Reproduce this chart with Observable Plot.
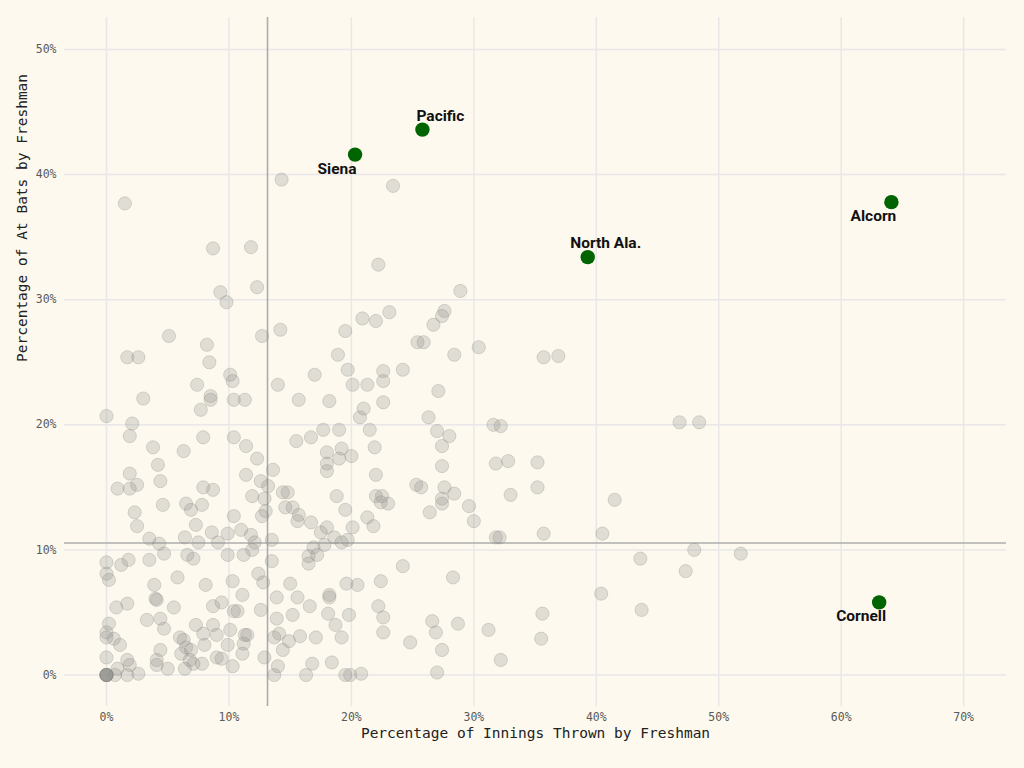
<!DOCTYPE html>
<html><head><meta charset="utf-8">
<script src="https://cdn.jsdelivr.net/npm/d3@7"></script>
<script src="https://cdn.jsdelivr.net/npm/@observablehq/plot@0.6"></script>
<style>
html,body{margin:0;padding:0;background:#fdf9ee;}
#chart{width:1024px;height:768px;}
</style></head><body><div id="chart"></div>
<script>
// Percentage of innings thrown by freshmen (x) and at bats by freshmen (y), per team
const freshmanInnings = [
  1.5, 8.7, 11.8, 9.3, 9.8, 12.3, 5.1, 8.2, 8.4, 1.7,
  2.6, 10.1, 10.3, 7.4, 8.5, 8.5, 10.4, 11.3, 7.7, 3.0,
  0, 2.1, 1.9, 3.8, 6.3, 7.9, 10.4, 11.4, 12.3, 4.2,
  1.9, 11.4, 4.4, 2.5, 1.9, 0.9, 7.9, 8.7, 12.6, 13.2,
  13.6, 14.0, 14.2, 14.3, 12.7,
  19.5, 25.4, 25.9, 28.4, 30.4, 18.9, 19.7, 22.6, 22.6, 24.2,
  17.0, 20.1, 21.3, 27.1, 15.7, 18.2, 22.6, 21.0, 20.7, 26.3,
  17.7, 19.0, 21.5, 27.0, 28.0, 15.5, 16.7, 27.4, 18.0, 19.2,
  19.0, 20.0, 21.9, 18.0, 18.0, 27.4, 22.0,
  14.4, 14.8, 18.8, 22.0, 22.5, 22.4, 23.0, 25.3, 25.7, 27.6,
  28.4, 27.4, 27.4, 26.4, 29.6, 30.0, 12.9, 13.0, 14.6, 15.2,
  15.7, 15.6, 16.7, 19.5, 21.3, 21.8, 18.0, 20.1, 18.6, 19.2,
  19.7, 17.5, 13.5, 17.8, 16.9, 17.2, 16.5, 16.5, 13.5,
  24.2, 28.3, 15.0, 13.9, 15.6, 16.6, 18.2, 18.2, 19.6, 20.5,
  22.4, 22.2, 22.6, 15.2, 18.1, 19.8, 18.7, 13.9, 12.6, 12.8,
  12.4, 13.7, 14.1, 14.9, 14.4, 15.8, 17.1, 19.2, 22.6, 24.8,
  26.6, 26.9, 28.7, 27.4, 31.2, 32.2, 12.9, 14.0, 13.7, 16.8,
  16.3, 18.4, 19.5, 19.9, 20.8, 27.0,
  23.4, 22.2, 28.9, 27.6, 27.4, 26.7, 23.1, 22.0, 20.9, 35.7,
  36.9, 31.6, 32.2, 46.8, 48.4, 31.8, 32.8, 35.2, 35.2, 33.0,
  41.5, 31.8, 32.1, 35.7, 40.5, 43.6, 48.0, 47.3, 51.8, 40.4,
  43.7, 35.6, 35.5,
  11.9, 4.6, 2.3, 2.5, 6.5, 6.9, 7.8, 7.3, 10.4, 12.7,
  3.5, 4.3, 4.7, 6.4, 7.5, 8.6, 9.1, 9.9, 11.0, 11.8,
  12.1, 11.9, 6.6, 7.1, 9.9, 11.2, 0, 1.2, 1.8, 3.5,
  0, 0.2, 5.8, 8.1, 10.3, 3.9, 11.1, 4.0, 4.1, 0.8,
  1.7, 5.5, 8.7, 9.4, 10.4, 10.7, 0.2, 3.3, 4.4, 4.7,
  7.3, 7.9, 8.7, 9.0, 10.1, 9.9, 11.3, 11.5, 11.2, 0,
  0, 0.6, 1.1, 6.0, 6.3, 6.5, 6.9, 8.0, 6.1, 4.4,
  4.1, 4.1, 7.1, 7.8, 9.0, 9.4, 10.3, 11.1, 0, 1.7,
  1.9, 0.9, 2.6, 5.0, 6.4, 6.8, 0.7, 1.7, 0, 0,
  0, 0, 0, 0
];
const freshmanAtBats = [
  37.7, 34.1, 34.2, 30.6, 29.8, 31.0, 27.1, 26.4, 25.0, 25.4,
  25.4, 24.0, 23.5, 23.2, 22.3, 22.0, 22.0, 22.0, 21.2, 22.1,
  20.7, 20.1, 19.1, 18.2, 17.9, 19.0, 19.0, 18.3, 17.3, 16.8,
  16.1, 16.0, 15.5, 15.2, 14.9, 14.9, 15.0, 14.8, 15.5, 15.1,
  16.4, 23.2, 27.6, 39.6, 27.1,
  27.5, 26.6, 26.6, 25.6, 26.2, 25.6, 24.4, 24.3, 23.5, 24.4,
  24.0, 23.2, 23.2, 22.7, 22.0, 21.9, 21.8, 21.3, 20.6, 20.6,
  19.6, 19.6, 19.6, 19.5, 19.1, 18.7, 19.0, 18.3, 17.8, 18.1,
  17.3, 17.5, 18.2, 16.9, 16.3, 16.7, 16.0,
  14.6, 14.6, 14.3, 14.3, 14.3, 13.8, 13.7, 15.2, 15.0, 15.0,
  14.5, 14.1, 13.7, 13.0, 13.5, 12.3, 14.1, 13.1, 13.4, 13.4,
  12.8, 12.3, 12.2, 13.2, 12.6, 11.9, 11.8, 11.8, 11.0, 10.6,
  10.8, 11.4, 10.8, 10.4, 10.2, 9.6, 9.5, 8.9, 9.1,
  8.7, 7.8, 7.3, 6.2, 6.2, 5.5, 6.4, 6.2, 7.3, 7.2,
  7.5, 5.5, 4.6, 4.8, 4.9, 4.8, 4.0, 4.5, 5.2, 7.4,
  8.1, 3.0, 3.3, 2.7, 2.0, 3.1, 3.0, 3.0, 3.4, 2.6,
  4.3, 3.4, 4.1, 2.0, 3.6, 1.2, 1.4, 0.7, 0, 0.9,
  0, 1.0, 0, 0, 0.1, 0.2,
  39.1, 32.8, 30.7, 29.1, 28.7, 28.0, 29.0, 28.3, 28.5, 25.4,
  25.5, 20.0, 19.9, 20.2, 20.2, 16.9, 17.1, 17.0, 15.0, 14.4,
  14.0, 11.0, 11.0, 11.3, 11.3, 9.3, 10.0, 8.3, 9.7, 6.5,
  5.2, 4.9, 2.9,
  14.3, 13.6, 13.0, 11.9, 13.7, 13.2, 13.6, 12.0, 12.7, 12.7,
  10.9, 10.5, 9.7, 11.0, 10.6, 11.4, 10.6, 11.3, 11.6, 11.2,
  10.6, 10.0, 9.6, 9.3, 9.6, 9.6, 9.0, 8.8, 9.2, 9.2,
  8.1, 7.6, 7.8, 7.2, 7.5, 7.2, 6.4, 6.1, 6.0, 5.4,
  5.7, 5.4, 5.5, 5.8, 5.1, 5.1, 4.1, 4.4, 4.5, 3.7,
  4.0, 3.3, 4.0, 3.2, 3.6, 2.4, 3.2, 3.2, 2.5, 3.4,
  3.0, 2.9, 2.4, 3.0, 2.8, 2.2, 2.0, 2.4, 1.7, 2.0,
  1.2, 0.8, 0.9, 0.9, 1.4, 1.3, 0.7, 1.7, 1.4, 1.2,
  0.8, 0.5, 0.1, 0.5, 0.5, 1.2, 0.0, 0.0, 0, 0,
  0, 0, 0, 0
];

// Highlighted teams
const highlightTeams   = ["Pacific", "Siena", "North Ala.", "Alcorn", "Cornell"];
const highlightInnings = [25.8, 20.3, 39.3, 64.1, 63.1];
const highlightAtBats  = [43.6, 41.6, 33.4, 37.8, 5.8];

// Averages (reference lines)
const meanInnings = 13.15;
const meanAtBats = 10.55;

const xTicks = [0, 10, 20, 30, 40, 50, 60, 70];
const yTicks = [0, 10, 20, 30, 40, 50];
const xTitle = "Percentage of Innings Thrown by Freshman";
const yTitle = "Percentage of At Bats by Freshman";

const teams = freshmanInnings.map((x, i) => ({x, y: freshmanAtBats[i]}));
const highlights = highlightTeams.map((name, i) => ({name, x: highlightInnings[i], y: highlightAtBats[i]}));
const labelAbove = new Set(["Pacific", "North Ala."]);

const mono = "'DejaVu Sans Mono', 'Liberation Mono', monospace";
const labelFont = "Roboto, 'Noto Sans', sans-serif";

const chart = Plot.plot({
  width: 1024,
  height: 768,
  marginLeft: 64,
  marginRight: 18,
  marginTop: 17,
  marginBottom: 62,
  style: {background: "#fdf9ee", fontFamily: mono, overflow: "visible"},
  x: {domain: [-3.43, 73.5]},
  y: {domain: [-2.52, 52.56]},
  marks: [
    Plot.gridX(xTicks, {stroke: "#e9e7e9", strokeOpacity: 1, strokeWidth: 1.5}),
    Plot.gridY(yTicks, {stroke: "#e9e7e9", strokeOpacity: 1, strokeWidth: 1.5}),
    Plot.ruleX([meanInnings], {stroke: "#acacac", strokeWidth: 1.6}),
    Plot.ruleY([meanAtBats], {stroke: "#acacac", strokeWidth: 1.6}),
    Plot.dot(teams, {x: "x", y: "y", r: 6.6, fill: "#8c8a86", fillOpacity: 0.25, stroke: "#8c8a86", strokeOpacity: 0.3, strokeWidth: 1}),
    Plot.dot(highlights, {x: "x", y: "y", r: 7.2, fill: "#006400"}),
    Plot.text(highlights.filter(d => labelAbove.has(d.name)), {x: "x", y: "y", text: "name", dx: 18, dy: -14, fontFamily: labelFont, fontWeight: 700, fontSize: 15.5, fill: "#111"}),
    Plot.text(highlights.filter(d => !labelAbove.has(d.name)), {x: "x", y: "y", text: "name", dx: -18, dy: 14, fontFamily: labelFont, fontWeight: 700, fontSize: 15.5, fill: "#111"}),
    Plot.axisX(xTicks, {tickSize: 0, tickPadding: 6, tickFormat: d => d + "%", fontSize: 11.5, fill: "#5a5a5a", label: null}),
    Plot.axisY(yTicks, {tickSize: 0, tickPadding: 8, tickFormat: d => d + "%", fontSize: 11.5, fill: "#5a5a5a", label: null}),
    Plot.text([xTitle], {frameAnchor: "bottom", dy: 31, text: d => d, fontSize: 14.5, fill: "#222"}),
    Plot.text([yTitle], {frameAnchor: "left", dx: -42, rotate: -90, text: d => d, fontSize: 14.5, fill: "#222"})
  ]
});
document.getElementById("chart").appendChild(chart);
</script>
</body></html>
